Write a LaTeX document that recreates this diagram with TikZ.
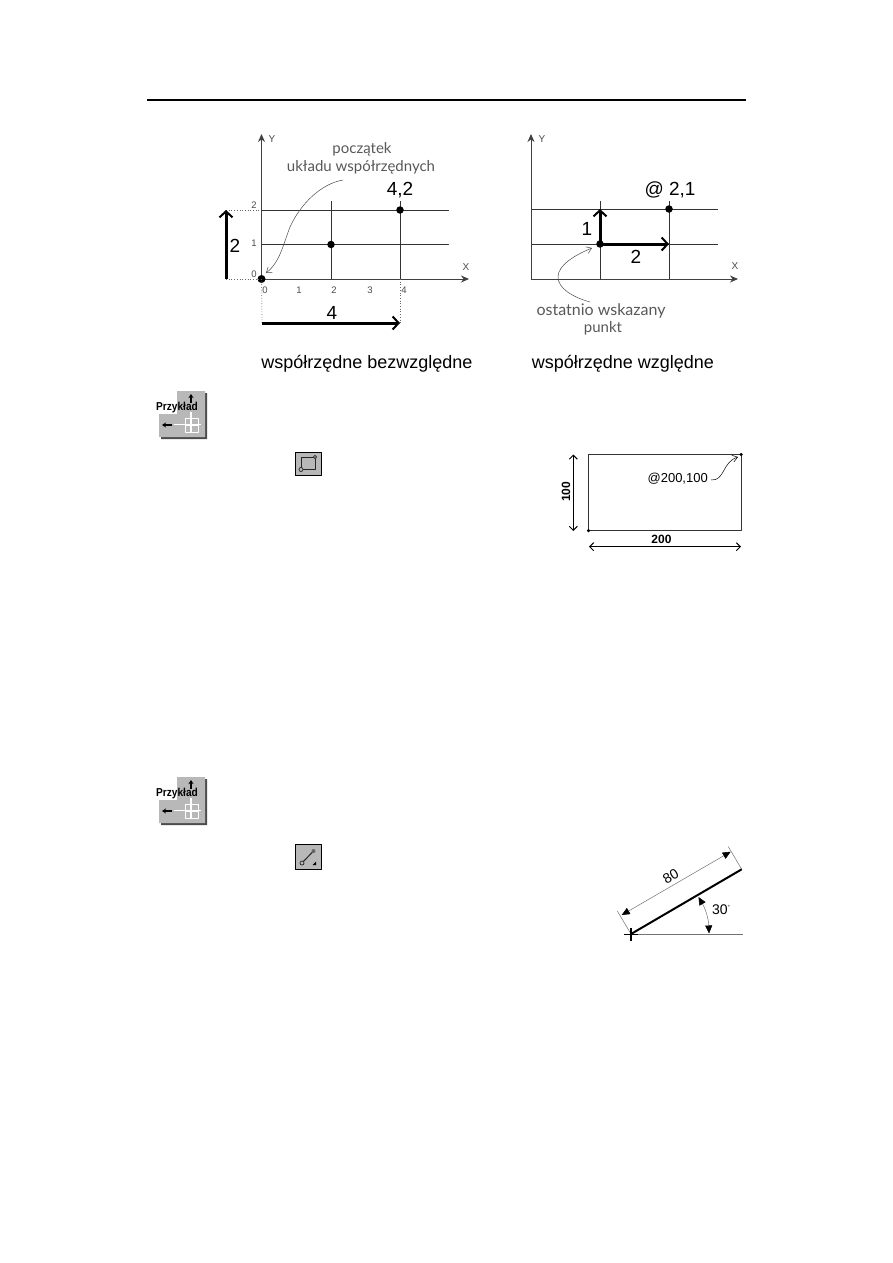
\documentclass[tikz,border=0pt]{standalone}
\usepackage{fontspec}
\setmainfont{Liberation Sans}
\newfontfamily\handfont{Lato}
\usetikzlibrary{arrows.meta}
\definecolor{plate}{gray}{.72}
\definecolor{plateshade}{gray}{.3}
\newcommand{\fsize}[1]{\fontsize{#1}{#1}\selectfont}
\tikzset{
	axis/.style={draw=black!75, line width=1pt, -{Stealth[length=8pt,width=7pt]}},
	gridline/.style={draw=black!80, line width=1pt},
	helpline/.style={draw=black!60, line width=.7pt, dotted},
	bigarrow/.style={draw=black, line width=3pt, -{Straight Barb[length=6pt,width=13pt,line width=2pt]}},
	hand/.style={draw=black!70, line width=.5pt, -{Straight Barb[length=5pt,width=7pt]}},
	dot/.style={circle, fill=black, inner sep=0pt, minimum size=#1},
	tick/.style={font=\fsize{9.5}, text=black!70, inner sep=0pt},
	axisname/.style={font=\fsize{10}, text=black!70, inner sep=0pt},
	biglabel/.style={font=\fsize{19}, inner sep=0pt},
	caption/.style={font=\fsize{18}, inner sep=0pt},
	handtext/.style={font=\handfont\fsize{15}, text=black!65, inner sep=0pt},
	dimtext/.style={font=\fsize{13}, inner sep=0pt},
	dimarrow/.style={draw=black, line width=1pt, {Straight Barb[length=4pt,width=8pt]}-{Straight Barb[length=4pt,width=8pt]}},
	solidtip/.style={draw=black!55, line width=.5pt, {Triangle[length=8pt,width=7pt,black]}-{Triangle[length=8pt,width=7pt,black]}},
	toolbox/.style={draw=black, line width=1pt, fill=plate},
	pics/przyklad/.style={code={
		% shadow, plate, white cut-out
		\fill[plateshade] (2,2)--(30,2)--(30,48)--(-16,48)--(-16,25)--(2,25)--cycle;
		\fill[plate] (0,0)--(28,0)--(28,46)--(-18,46)--(-18,23)--(0,23)--cycle;
		\draw[white, line width=1.4pt] (-3,33.5)--(24,33.5) (14,21)--(14,42);
		\draw[white, line width=1pt] (8,27) rectangle (21,41) (8,34)--(21,34) (14.5,27)--(14.5,41);
		\draw[black, line width=1.5pt, -{Stealth[length=4pt,width=5pt]}] (14,11.5)--(14,3);
		\draw[black, line width=1.5pt, -{Stealth[length=4pt,width=5pt]}] (-5,34)--(-15,34);
		\node[font=\bfseries\fsize{11.5}, xscale=.88, inner sep=0pt] (#1) at (0,17) {Przykład};
	}},
}
\begin{document}
\begin{tikzpicture}[x=1pt, y=-1pt, line join=round, >=stealth]
	\useasboundingbox (0,0) rectangle (893,1263);
	\fill[white] (0,0) rectangle (893,1263);
	\draw[line width=2pt] (147,100)--(746,100);

	% bezwzgledne
	\coordinate (aO) at (261.5,279);
	\coordinate (aX) at (469,279);
	\coordinate (aY) at (261.5,134);
	\foreach \yy in {210,244.5} \draw[gridline] (261.5,\yy)--(449,\yy);
	\foreach \xx in {331,400} \draw[gridline] (\xx,201)--(\xx,279);
	\draw[axis] (aO)--(aX);
	\draw[axis] (aO)--(aY);
	\node[dot=8pt] (aorigin) at (aO) {};
	\node[dot=7.5pt] (amid) at (331,244.5) {};
	\node[dot=7.5pt] (apoint) at (400,210) {};
	\node[axisname] (aYname) at (272,139) {Y};
	\node[axisname] (aXname) at (466,267) {X};
	\foreach \yy/\lab in {205/2,243/1,274/0} \node[tick] (ay\lab) at (254,\yy) {\lab};
	\foreach \xx/\lab in {265/0,299/1,334/2,370/3,404/4} \node[tick] (ax\lab) at (\xx,290) {\lab};
	\coordinate (a2top) at (226,210);
	\coordinate (a2bot) at (226,279);
	\coordinate (a4left) at (262,323);
	\coordinate (a4right) at (400,323);
	\draw[helpline] (a2top)--(261,210);
	\draw[helpline] (a2bot)--(aO);
	\draw[helpline] (aO)--(a4left);
	\draw[helpline] (400,279)--(a4right);
	\draw[bigarrow] (a2bot)--(a2top);
	\draw[bigarrow] (a4left)--(a4right);
	\node[biglabel] (a2lab) at (235,246) {2};
	\node[biglabel] (a4lab) at (332,313) {4};
	\node[biglabel] (apointlab) at (400,190) {4,2};
	\node[handtext] (apocz) at (362,149) {początek};
	\node[handtext] (auklad) at (361,167) {układu współrzędnych};
	\coordinate (acurve) at (343,180);
	\coordinate (aend) at (266,273);
	\draw[hand] (acurve) .. controls (320,184) and (300,205) .. (290,227) .. controls (283,245) and (280,262) .. (aend);
	\node[caption] (acaption) at (367,364) {współrzędne bezwzględne};

	% wzgledne
	\coordinate (bO) at (531,279);
	\coordinate (bX) at (738,279);
	\coordinate (bY) at (531,134);
	\foreach \yy in {209,244} \draw[gridline] (531,\yy)--(718,\yy);
	\foreach \xx in {600,669} \draw[gridline] (\xx,201)--(\xx,279);
	\draw[axis] (bO)--(bX);
	\draw[axis] (bO)--(bY);
	\node[dot=7.5pt] (bstart) at (600,244) {};
	\node[dot=7.5pt] (bpoint) at (669,209) {};
	\coordinate (b1top) at (600,209);
	\coordinate (b2right) at (669,244);
	\draw[bigarrow] (bstart.center)--(b1top);
	\draw[bigarrow] (bstart.center)--(b2right);
	\node[axisname] (bYname) at (542,139) {Y};
	\node[axisname] (bXname) at (735,266) {X};
	\node[biglabel] (b1lab) at (587,229) {1};
	\node[biglabel] (b2lab) at (636,257) {2};
	\node[biglabel] (bpointlab) at (670,190) {@ 2,1};
	\node[handtext, font=\handfont\fsize{16}] (bostat) at (601,311) {ostatnio wskazany};
	\node[handtext] (bpunkt) at (603,328) {punkt};
	\coordinate (bcurve) at (590,302);
	\coordinate (bend) at (592,248);
	\draw[hand] (bcurve) .. controls (572,297) and (558,288) .. (558,277) .. controls (558,265) and (575,255) .. (bend);
	\node[caption] (bcaption) at (623,364) {współrzędne względne};

	% pierwszy przyklad
	\pic at (177,391) {przyklad=ex1};
	\node[toolbox, minimum width=26pt, minimum height=23pt, inner sep=0pt] (rectool) at (308.3,464) {};
	\draw[black!85, line width=1pt] (301,469.5) rectangle (315,457);
	\draw[black!85, fill=plate, line width=.7pt] (301,469.5) circle (2pt) (315,457) circle (1.6pt);

	\draw[draw=black!80, line width=1pt] (588.5,454.5) rectangle (741,530.7);
	\node[dot=3.5pt] (ccorner) at (588.5,530.7) {};
	\node[dot=3.5pt] (cfar) at (741,454.5) {};
	\coordinate (cv1) at (573.3,454.5);
	\coordinate (cv2) at (573.3,531);
	\coordinate (ch1) at (589,546.7);
	\coordinate (ch2) at (741,546.7);
	\draw[dimarrow] (cv1)--(cv2);
	\draw[dimarrow] (ch1)--(ch2);
	\node[dimtext, font=\bfseries\fsize{12}, rotate=90] (c100) at (566,491.7) {100};
	\node[dimtext, font=\bfseries\fsize{12}] (c200) at (661.5,539) {200};
	\node[dimtext] (cat) at (677.7,478.3) {@200,100};
	\coordinate (cstart) at (711,480);
	\coordinate (cstop) at (738,457);
	\draw[hand, draw=black] (cstart) .. controls (725,481) and (722,462) .. (cstop);

	% drugi przyklad
	\pic at (177,777) {przyklad=ex2};
	\node[toolbox, minimum width=26pt, minimum height=25pt, inner sep=0pt] (linetool) at (308.3,857) {};
	\draw[black!85, line width=1pt] (302,863)--(313.5,851);
	\draw[black!85, fill=plate, line width=.7pt] (302,863) circle (2pt);
	\fill[black!60] (313.5,851) circle (2pt);
	\fill[black] (316,865)--(316,861.5)--(312.5,865)--cycle;

	\coordinate (dstart) at (631,934);
	\coordinate (dend) at (741.7,869.3);
	\coordinate (dflat) at (742.7,934);
	\coordinate (ddim1) at (621.7,915);
	\coordinate (ddim2) at (730.7,851.7);
	\coordinate (dext1) at (617.3,911);
	\coordinate (dext2) at (728.3,846.7);
	\draw[draw=black!55, line width=.6pt] (dstart)--(dflat);
	\draw[draw=black!55, line width=.5pt] (dext1)--(dstart) (dext2)--(dend);
	\draw[solidtip] (ddim1)--(ddim2);
	\draw[line width=2pt] (dstart)--(dend);
	\draw[line width=1.5pt] (624,934.5)--(638,934.5) (631,928)--(631,941);
	\coordinate (darc1) at (698.5,897);
	\coordinate (darc2) at (709,933.5);
	\draw[solidtip] (darc1) to[bend left=14] (darc2);
	\node[dimtext, font=\fsize{14}, rotate=30] (d80) at (670.7,876.5) {80};
	\node[dimtext, font=\fsize{14}] (d30) at (721,910) {30\raisebox{5pt}{\fsize{6}°}};
\end{tikzpicture}
\end{document}
